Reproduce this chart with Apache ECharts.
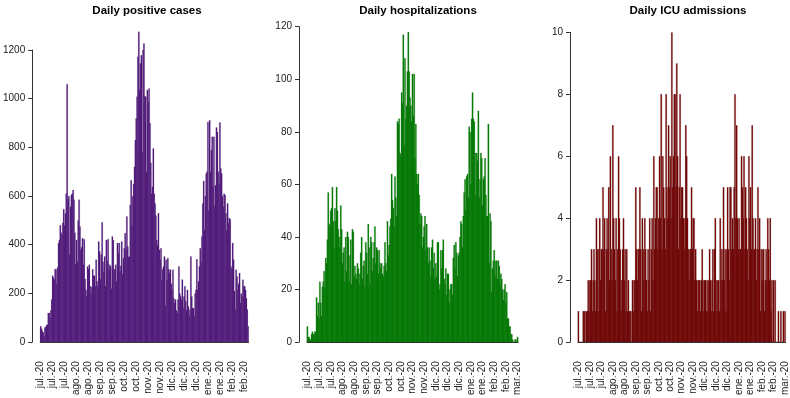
<!DOCTYPE html>
<html>
<head>
<meta charset="utf-8">
<script src="https://cdn.jsdelivr.net/npm/echarts@6/dist/echarts.min.js"></script>
<style>
html, body { margin: 0; padding: 0; background: #fff; }
#chart { width: 790px; height: 398px; }
</style>
</head>
<body>
<div id="chart"></div>
<script>
// tick labels, one every 14 days
const casesTickLabels = ['jul.-20', 'jul.-20', 'jul.-20', 'ago.-20', 'ago.-20', 'sep.-20', 'sep.-20', 'oct.-20', 'oct.-20',
    'nov.-20', 'nov.-20', 'dic.-20', 'dic.-20', 'dic.-20', 'ene.-20', 'ene.-20', 'feb.-20', 'feb.-20'];
const hospTickLabels = ['jul.-20', 'jul.-20', 'jul.-20', 'ago.-20', 'ago.-20', 'sep.-20', 'sep.-20', 'oct.-20', 'oct.-20',
    'nov.-20', 'nov.-20', 'dic.-20', 'dic.-20', 'dic.-20', 'ene.-20', 'ene.-20', 'feb.-20', 'feb.-20', 'mar.-20'];
const icuTickLabels = hospTickLabels;

// daily positive cases (from 1 jul)
const cases = [
    65, 55, 45, 40, 25, 60, 63, 70, 72, 120, 120, 100, 130, 175, 273, 265, 257, 300, 300, 240,
    308, 407, 420, 480, 450, 440, 490, 546, 480, 530, 610, 1060, 587, 600, 360, 557, 605, 610, 625, 585,
    450, 320, 420, 330, 500, 585, 475, 380, 390, 427, 318, 423, 260, 215, 190, 311, 300, 318, 230, 202,
    227, 300, 273, 273, 230, 339, 250, 230, 414, 373, 260, 360, 493, 330, 290, 352, 230, 420, 332, 423,
    300, 318, 311, 220, 434, 420, 300, 298, 318, 250, 407, 366, 407, 290, 314, 414, 280, 345, 386, 448,
    380, 516, 393, 350, 352, 564, 665, 480, 600, 650, 720, 830, 919, 1008, 1173, 1275, 1036, 1145, 1179, 780,
    1200, 1227, 1010, 1008, 700, 1036, 988, 1042, 900, 737, 610, 638, 796, 610, 570, 520, 420, 400, 530, 380,
    340, 386, 257, 300, 311, 352, 150, 339, 257, 345, 300, 284, 298, 240, 215, 298, 180, 161, 175, 130,
    120, 175, 311, 200, 188, 175, 257, 140, 188, 230, 168, 130, 215, 147, 110, 134, 352, 188, 140, 140,
    107, 200, 215, 341, 215, 250, 311, 386, 330, 434, 570, 662, 461, 600, 693, 700, 905, 540, 912, 700,
    789, 844, 640, 844, 560, 645, 882, 864, 700, 650, 903, 714, 693, 600, 556, 610, 605, 530, 460, 570,
    489, 510, 505, 311, 300, 407, 339, 210, 134, 298, 270, 215, 240, 284, 161, 200, 188, 257, 230, 230,
    215, 180, 134, 65
];

// daily hospitalizations
const hosp = [
    6, 2, 2, 1, 1, 3, 4, 3, 3, 4, 4, 17, 10, 15, 9, 23, 15, 10, 21, 23,
    27, 21, 32, 30, 39, 57, 45, 44, 50, 51, 59, 46, 36, 51, 46, 59, 50, 43, 40, 36,
    52, 43, 30, 34, 36, 23, 40, 27, 42, 40, 23, 33, 39, 22, 43, 42, 25, 29, 26, 24,
    30, 28, 22, 26, 34, 40, 24, 29, 31, 21, 38, 34, 26, 45, 36, 22, 40, 38, 27, 32,
    38, 44, 30, 36, 35, 26, 35, 30, 28, 30, 26, 25, 29, 38, 30, 27, 46, 33, 37, 44,
    47, 64, 54, 51, 44, 63, 55, 48, 84, 83, 85, 72, 71, 95, 91, 117, 75, 108, 85, 90,
    103, 118, 103, 93, 90, 84, 102, 86, 102, 70, 83, 64, 60, 64, 56, 45, 49, 48, 36, 40,
    44, 48, 35, 45, 36, 30, 36, 31, 25, 36, 39, 28, 34, 24, 30, 25, 38, 38, 20, 22,
    35, 28, 35, 39, 24, 22, 28, 18, 26, 26, 15, 20, 22, 22, 18, 32, 37, 28, 38, 34,
    25, 33, 34, 40, 46, 45, 36, 48, 57, 62, 50, 63, 64, 55, 82, 80, 60, 85, 95, 85,
    84, 72, 56, 72, 69, 88, 55, 62, 72, 70, 52, 62, 63, 70, 56, 48, 48, 83, 30, 49,
    46, 19, 28, 31, 35, 25, 31, 31, 24, 31, 29, 22, 26, 24, 20, 16, 20, 22, 15, 19,
    9, 9, 6, 6, 3, 3, 1, 0, 0, 1, 1, 0, 2
];

// daily ICU admissions
const icu = [
    1, 0, 0, 0, 0, 0, 1, 1, 1, 0, 1, 1, 2, 1, 2, 2, 3, 1, 2, 3,
    2, 1, 4, 3, 1, 3, 4, 2, 3, 3, 5, 3, 4, 1, 3, 4, 3, 5, 2, 6,
    3, 2, 7, 4, 3, 2, 4, 1, 3, 6, 4, 3, 1, 2, 3, 4, 2, 3, 1, 3,
    1, 2, 1, 1, 1, 0, 2, 1, 2, 2, 5, 3, 2, 3, 3, 5, 3, 1, 4, 3,
    2, 4, 3, 2, 1, 3, 2, 4, 1, 3, 4, 2, 6, 3, 4, 5, 5, 3, 4, 6,
    4, 8, 3, 6, 5, 4, 3, 8, 5, 4, 7, 5, 6, 4, 10, 5, 6, 8, 8, 5,
    9, 6, 3, 5, 8, 4, 5, 5, 4, 3, 4, 7, 6, 4, 3, 2, 3, 3, 5, 3,
    4, 4, 2, 3, 2, 1, 2, 2, 2, 1, 2, 3, 2, 1, 2, 2, 1, 2, 1, 2,
    3, 2, 1, 2, 3, 1, 3, 4, 2, 1, 2, 2, 1, 4, 2, 3, 2, 5, 2, 3,
    1, 3, 5, 3, 2, 5, 5, 3, 4, 3, 5, 8, 4, 7, 4, 3, 4, 3, 3, 6,
    5, 4, 6, 3, 5, 4, 3, 2, 6, 4, 5, 3, 7, 4, 3, 3, 4, 2, 3, 5,
    3, 4, 1, 3, 2, 3, 3, 1, 2, 3, 2, 4, 3, 2, 4, 1, 2, 0, 2, 0,
    2, 0, 0, 0, 1, 0, 0, 1, 0, 0, 1, 0, 1
];

function dayCategories(n) {
    const out = [];
    const start = new Date(2020, 6, 1);
    for (let i = 0; i < n; i++) {
        const d = new Date(start.getTime() + i * 86400000);
        out.push(d.toISOString().slice(0, 10));
    }
    return out;
}

const FONT = '"Liberation Sans", Arial, sans-serif';
const AXIS_COLOR = '#333';

const panels = [
    { title: 'Daily positive cases', data: cases, labels: casesTickLabels, max: 1200, interval: 200,
      titleX: 142, grid: { left: 37, width: 211.5, top: 50, height: 293 },
      color: '#4b0c7c', border: '#6e5a82' },
    { title: 'Daily hospitalizations', data: hosp, labels: hospTickLabels, max: 120, interval: 20,
      titleX: 413, grid: { left: 307, width: 211, top: 26.7, height: 316.3 },
      color: '#008400', border: '#1e5a1e' },
    { title: 'Daily ICU admissions', data: icu, labels: icuTickLabels, max: 10, interval: 2,
      titleX: 683, grid: { left: 578, width: 211, top: 32.3, height: 310.7 },
      color: '#7a0000', border: '#5a3030' }
];

const option = {
    animation: false,
    backgroundColor: '#fff',
    title: panels.map(p => ({
        text: p.title,
        left: p.titleX,
        top: 0,
        textAlign: 'center',
        textStyle: { fontFamily: FONT, fontSize: 11.5, fontWeight: 'bold', color: '#000' }
    })),
    grid: panels.map(p => Object.assign({ containLabel: false }, p.grid)),
    xAxis: panels.map((p, i) => ({
        type: 'category',
        gridIndex: i,
        data: dayCategories(p.data.length),
        offset: 12,
        axisLine: { lineStyle: { color: AXIS_COLOR, width: 1 } },
        axisTick: {
            length: 4,
            interval: (idx) => idx % 7 === 0 || idx % 7 === 4,
            lineStyle: { color: AXIS_COLOR }
        },
        axisLabel: {
            interval: 13,
            rotate: 90,
            margin: 7,
            fontFamily: FONT,
            fontSize: 10,
            color: '#222',
            formatter: (v, idx) => p.labels[Math.round(idx / 14)] || ''
        },
        splitLine: { show: false }
    })),
    yAxis: panels.map((p, i) => ({
        type: 'value',
        gridIndex: i,
        min: 0,
        max: p.max,
        interval: p.interval,
        offset: 8,
        axisLine: { show: true, lineStyle: { color: AXIS_COLOR, width: 1 } },
        axisTick: { show: true, length: 4, lineStyle: { color: AXIS_COLOR } },
        axisLabel: { margin: 7, fontFamily: FONT, fontSize: 10, color: '#222', formatter: v => String(v) },
        splitLine: { show: false }
    })),
    series: panels.map((p, i) => ({
        type: 'bar',
        xAxisIndex: i,
        yAxisIndex: i,
        data: p.data,
        clip: false,
        barWidth: 1.5,
        barGap: '-100%',
        itemStyle: { color: p.color, borderColor: p.border, borderWidth: 0.2 }
    }))
};

const chart = echarts.init(document.getElementById('chart'), null, { renderer: 'canvas' });
chart.setOption(option);
</script>
</body>
</html>
